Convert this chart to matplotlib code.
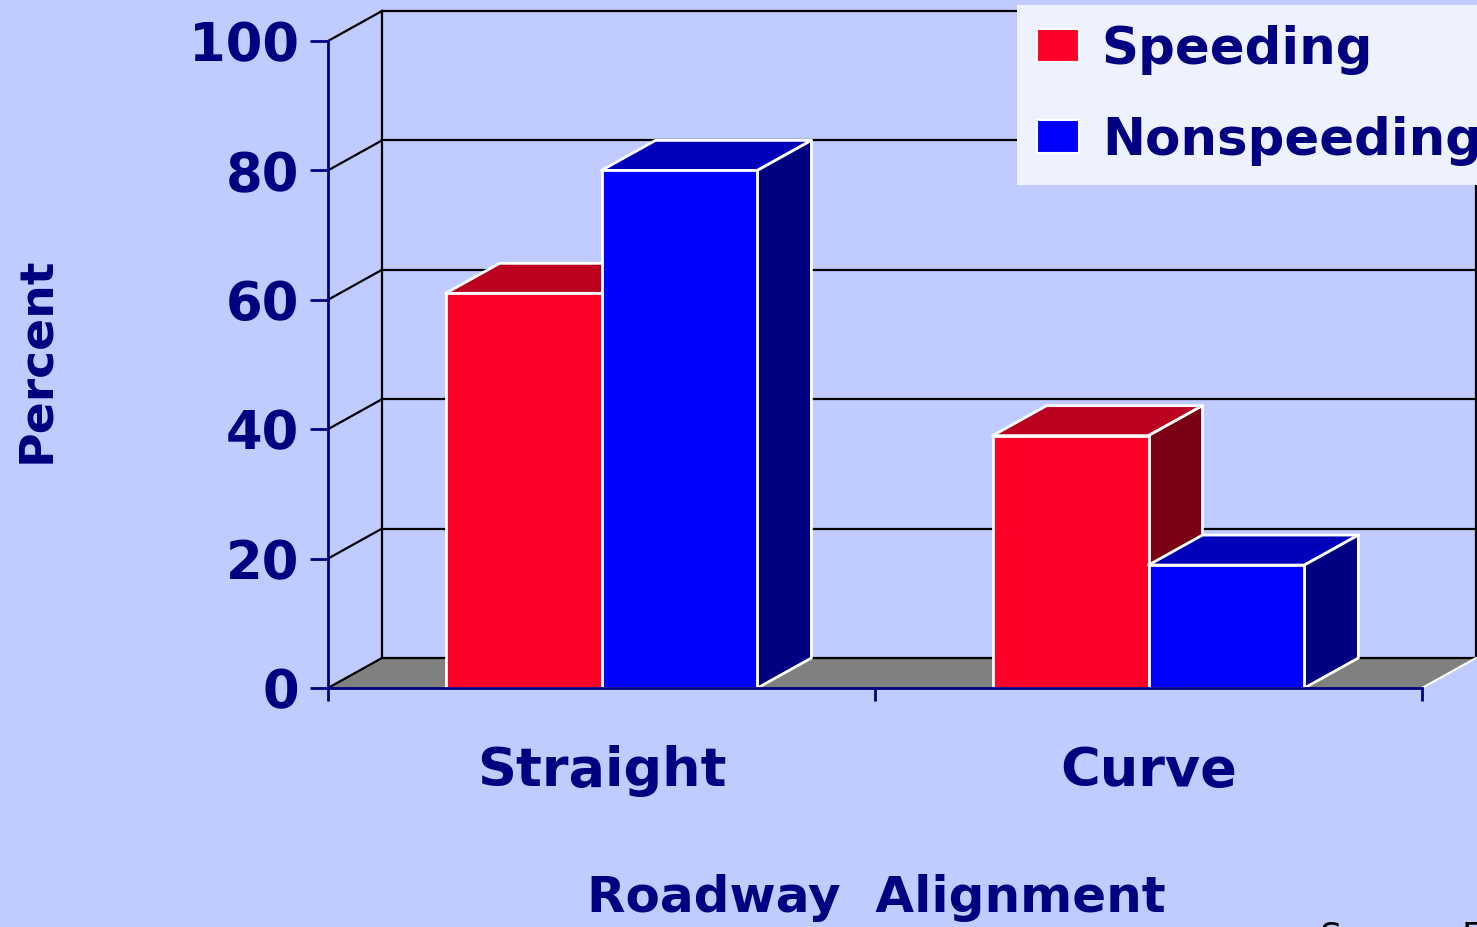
import matplotlib.pyplot as plt
from matplotlib.patches import Polygon, Patch

# データ
categories = ["Straight", "Curve"]
speeding = [61, 39]
nonspeeding = [80, 19]
series_names = ["Speeding", "Nonspeeding"]
y_ticks = [0, 20, 40, 60, 80, 100]

# 色
BG = "#C0CCFF"
NAVY = "#000080"
FACE = ["#FF0028", "#0000FF"]
TOP = ["#BB0020", "#0000BB"]
SIDE = ["#7A0015", "#000080"]

# 奥行き (データ単位)
DX = 54 / 547
DY = 30 / 6.47
BAR_W = 0.285

plt.rcParams['font.family'] = ['DejaVu Sans']
plt.rcParams['font.weight'] = 'bold'

fig = plt.figure(figsize=(14.77, 9.27), dpi=100)
fig.patch.set_facecolor(BG)
ax = fig.add_axes([328 / 1477, 1 - 688 / 927, 1094 / 1477, 647 / 927])
ax.set_facecolor("none")
ax.set_xlim(0, len(categories))
ax.set_ylim(0, 100)
n = len(categories)

# 床
ax.add_patch(Polygon([(0, 0), (n, 0), (n + DX, DY), (DX, DY)],
                     facecolor="#808080", edgecolor="none", zorder=1, clip_on=False))
ax.plot([n, n + DX], [0, DY], color="white", lw=1.5, zorder=1.2, clip_on=False)

# 奥の壁のグリッド線と左側の斜線
for v in y_ticks:
    ax.plot([DX, n + DX], [v + DY, v + DY], color="black", lw=1.6, zorder=1.1, clip_on=False)
    ax.plot([0, DX], [v, v + DY], color="black", lw=1.6, zorder=1.1, clip_on=False)
ax.plot([DX, DX], [DY, 100 + DY], color="black", lw=1.6, zorder=1.1, clip_on=False)
ax.plot([n + DX, n + DX], [DY, 100 + DY], color="black", lw=1.6, zorder=1.1, clip_on=False)

# 3D風の棒
for s, vals in enumerate([speeding, nonspeeding]):
    z = 3 + s
    x0s = [i + 0.5 - BAR_W + s * BAR_W for i in range(n)]
    ax.bar(x0s, vals, BAR_W, align="edge", color=FACE[s], edgecolor="white",
           linewidth=2, zorder=z + 0.5)
    for x0, v in zip(x0s, vals):
        x1 = x0 + BAR_W
        ax.add_patch(Polygon([(x0, v), (x1, v), (x1 + DX, v + DY), (x0 + DX, v + DY)],
                             facecolor=TOP[s], edgecolor="white", lw=2, zorder=z,
                             joinstyle="round", clip_on=False))
        ax.add_patch(Polygon([(x1, 0), (x1 + DX, DY), (x1 + DX, v + DY), (x1, v)],
                             facecolor=SIDE[s], edgecolor="white", lw=2, zorder=z,
                             joinstyle="round", clip_on=False))

# 軸
for sp in ["top", "right"]:
    ax.spines[sp].set_visible(False)
for sp in ["left", "bottom"]:
    ax.spines[sp].set_color(NAVY)
    ax.spines[sp].set_linewidth(2)
    ax.spines[sp].set_zorder(6)

ax.set_yticks(y_ticks)
ax.set_yticklabels([str(v) for v in y_ticks])
ax.tick_params(axis="y", direction="out", length=13, width=2, color=NAVY,
               labelcolor=NAVY, labelsize=38, pad=8)
ax.set_xticks(range(n + 1))
ax.set_xticklabels([])
ax.tick_params(axis="x", which="major", direction="out", length=9, width=2, color=NAVY)
ax.set_xticks([i + 0.5 for i in range(n)], minor=True)
ax.set_xticklabels(categories, minor=True)
ax.tick_params(axis="x", which="minor", length=0, labelcolor=NAVY, labelsize=39, pad=41)

# 軸ラベル
fig.text(876 / 1477, 1 - 898 / 927, "Roadway  Alignment", ha="center", va="center",
         color=NAVY, fontsize=36, fontweight="bold")
fig.text(37 / 1477, 1 - 360 / 927, "Percent", ha="center", va="center", rotation=90,
         color=NAVY, fontsize=34, fontweight="bold")
fig.text(1320 / 1477, 1 - 920 / 927, "Source: FARS", ha="left", va="top",
         color="black", fontsize=25, fontweight="normal")

# 凡例
handles = [Patch(facecolor=FACE[i], edgecolor="white", linewidth=1.5, label=series_names[i])
           for i in range(2)]
leg = fig.legend(handles=handles, loc="upper left", bbox_to_anchor=(1017 / 1477, 1 - 5 / 927),
                 frameon=True, fancybox=False, framealpha=1, facecolor="#EEF2FF",
                 edgecolor="none", fontsize=37, handlelength=0.82, handleheight=0.6,
                 handletextpad=0.45, labelspacing=0.8, borderpad=0.38, borderaxespad=0)
for t in leg.get_texts():
    t.set_color(NAVY)

fig.savefig("out.png", dpi=100, facecolor=BG)
